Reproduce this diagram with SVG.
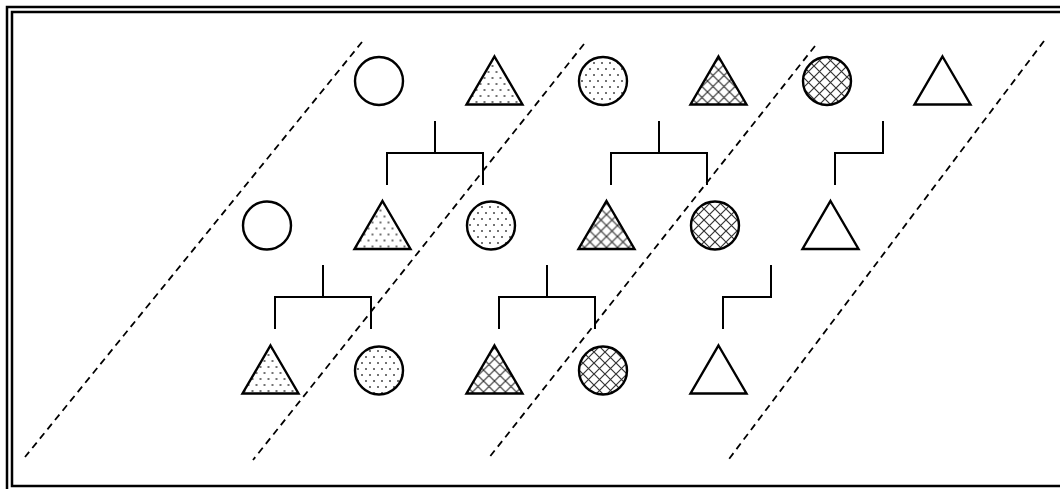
<svg xmlns="http://www.w3.org/2000/svg" width="1060" height="489" viewBox="0 0 1060 489">
<defs>
<pattern id="dots" width="8" height="12" patternUnits="userSpaceOnUse">
<circle cx="2" cy="3" r="1" fill="#444"/>
<circle cx="6" cy="9" r="1" fill="#444"/>
</pattern>
<pattern id="hatch" width="11" height="11" patternUnits="userSpaceOnUse">
<path d="M0,0 L11,11 M11,0 L0,11" stroke="#333" stroke-width="1.2" fill="none"/>
</pattern>
<polygon id="tri" points="0,-24.5 28,23.5 -28,23.5"/>
</defs>
<style>
.frame{fill:none;stroke:#000;stroke-width:2.5}
.c{stroke:#000;stroke-width:2.4}
.e{fill:#fff}
.d{fill:url(#dots)}
.h{fill:url(#hatch)}
.conn{fill:none;stroke:#000;stroke-width:2}
.dash{fill:none;stroke:#000;stroke-width:1.8;stroke-dasharray:7,5}
</style>
<rect x="0" y="0" width="1060" height="489" fill="#fff"/>
<rect class="frame" x="7" y="7" width="1070" height="490"/>
<rect class="frame" x="12" y="12" width="1060" height="474"/>

<g id="dashed-lines">
<line class="dash" x1="362" y1="42" x2="25" y2="457"/>
<line class="dash" x1="584" y1="44" x2="253" y2="460"/>
<line class="dash" x1="815" y1="46" x2="488" y2="459"/>
<line class="dash" x1="1044" y1="41" x2="729" y2="459"/>
</g>

<g id="connectors">
<path class="conn" d="M435,121 V153 M387,185 V153 H483 V185"/>
<path class="conn" d="M659,121 V153 M611,185 V153 H707 V185"/>
<path class="conn" d="M883,121 V153 H835 V185"/>
<path class="conn" d="M323,265 V297 M275,329 V297 H371 V329"/>
<path class="conn" d="M547,265 V297 M499,329 V297 H595 V329"/>
<path class="conn" d="M771,265 V297 H723 V329"/>
</g>

<g id="r1c1"><circle class="c e" cx="379" cy="81" r="24"/></g>
<g id="r1c2"><use href="#tri" class="c d" x="494.5" y="81"/></g>
<g id="r1c3"><circle class="c d" cx="603" cy="81" r="24"/></g>
<g id="r1c4"><use href="#tri" class="c h" x="718.5" y="81"/></g>
<g id="r1c5"><circle class="c h" cx="827" cy="81" r="24"/></g>
<g id="r1c6"><use href="#tri" class="c e" x="942.5" y="81"/></g>

<g id="r2c1"><circle class="c e" cx="267" cy="225.5" r="24"/></g>
<g id="r2c2"><use href="#tri" class="c d" x="382.5" y="225.5"/></g>
<g id="r2c3"><circle class="c d" cx="491" cy="225.5" r="24"/></g>
<g id="r2c4"><use href="#tri" class="c h" x="606.5" y="225.5"/></g>
<g id="r2c5"><circle class="c h" cx="715" cy="225.5" r="24"/></g>
<g id="r2c6"><use href="#tri" class="c e" x="830.5" y="225.5"/></g>

<g id="r3c1"><use href="#tri" class="c d" x="270.5" y="370"/></g>
<g id="r3c2"><circle class="c d" cx="379" cy="370.5" r="24"/></g>
<g id="r3c3"><use href="#tri" class="c h" x="494.5" y="370"/></g>
<g id="r3c4"><circle class="c h" cx="603" cy="370.5" r="24"/></g>
<g id="r3c5"><use href="#tri" class="c e" x="718.5" y="370"/></g>
</svg>
